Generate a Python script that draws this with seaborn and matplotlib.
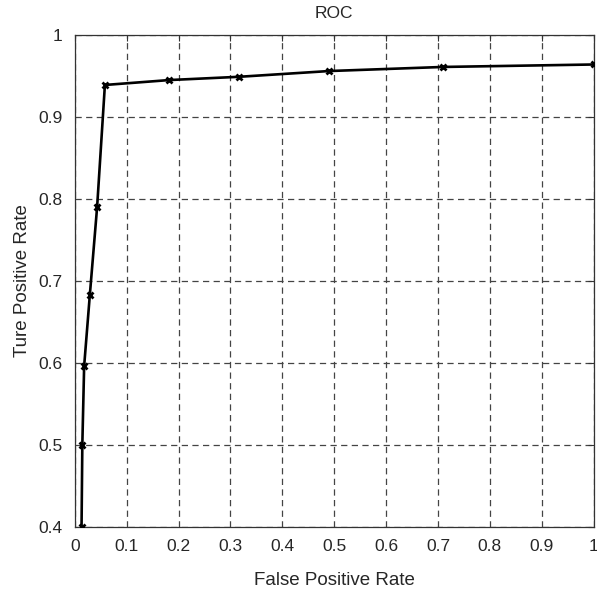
import seaborn as sns
import matplotlib.pyplot as plt
import pandas as pd

# ROC points
fpr = [0.013, 0.0145, 0.018, 0.029, 0.043, 0.058, 0.182, 0.317, 0.49, 0.71, 1.0]
tpr = [0.400, 0.500, 0.596, 0.683, 0.790, 0.939, 0.945, 0.949, 0.956, 0.961, 0.964]
x_ticks = [0, 0.1, 0.2, 0.3, 0.4, 0.5, 0.6, 0.7, 0.8, 0.9, 1]
x_labels = ['0', '0.1', '0.2', '0.3', '0.4', '0.5', '0.6', '0.7', '0.8', '0.9', '1']
y_ticks = [0.4, 0.5, 0.6, 0.7, 0.8, 0.9, 1]
y_labels = ['0.4', '0.5', '0.6', '0.7', '0.8', '0.9', '1']

df = pd.DataFrame({'fpr': fpr, 'tpr': tpr})

sns.set_style('white')
plt.rcParams['font.family'] = ['Liberation Sans', 'DejaVu Sans']

fig = plt.figure(figsize=(5.97, 5.94), dpi=100)
ax = fig.add_axes([0.1253, 0.1133, 0.8690, 0.8278])

sns.lineplot(data=df, x='fpr', y='tpr', sort=False, ax=ax, color='black',
             linewidth=1.9, marker='x', markersize=4.5, markeredgewidth=2,
             markeredgecolor='black', zorder=3)

ax.set_xlim(0, 1)
ax.set_ylim(0.4, 1)
ax.set_xticks(x_ticks)
ax.set_xticklabels(x_labels)
ax.set_yticks(y_ticks)
ax.set_yticklabels(y_labels)
ax.grid(True, linestyle=(0, (5, 3.5)), color='#444444', linewidth=0.9)
ax.tick_params(direction='in', top=True, right=True, length=4,
               labelsize=12.5, color='#333333', pad=9)
for s in ax.spines.values():
    s.set_color('#333333')
    s.set_linewidth(0.9)

ax.set_title('ROC', fontsize=12.5, pad=12)
ax.set_xlabel('False Positive Rate', fontsize=13.5, labelpad=13)
ax.set_ylabel('Ture Positive Rate', fontsize=13.5, labelpad=5)

fig.savefig('out.png', dpi=100)
